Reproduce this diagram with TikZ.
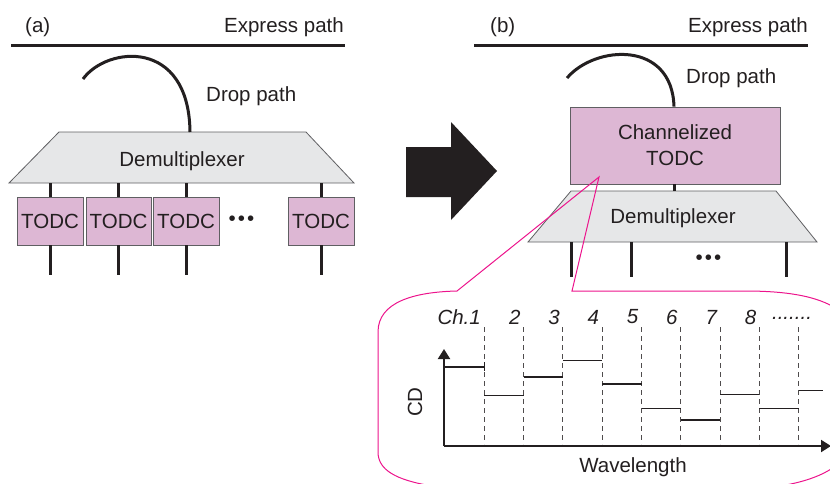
\documentclass[tikz,border=0pt]{standalone}
\usepackage{fontspec}
\setmainfont{Liberation Sans}
\usetikzlibrary{arrows.meta}
\definecolor{ink}{RGB}{35,31,32}
\definecolor{todcfill}{RGB}{221,183,212}
\definecolor{demuxfill}{RGB}{230,231,232}
\definecolor{edgegray}{RGB}{95,95,98}
\definecolor{calloutcol}{RGB}{236,20,140}
\begin{document}
\begin{tikzpicture}[x=1pt,y=-1pt,
  font=\fontsize{20.5}{24}\selectfont, text=ink,
  fiber/.style={line width=3pt, draw=ink},
  stub/.style={line width=3pt, draw=ink},
  todcbox/.style={draw=edgegray, fill=todcfill, line width=0.8pt, inner sep=0pt, minimum height=48pt},
  demuxshape/.style={draw=edgegray, fill=demuxfill, line width=0.8pt},
  plain/.style={inner sep=0pt},
  dashline/.style={draw=ink!80, line width=0.9pt, dash pattern=on 5pt off 4pt},
  level/.style={draw=ink, line width=1.6pt},
  axis/.style={draw=ink, line width=2pt, -{Triangle[length=10pt,width=12pt]}},
  pointer/.style={draw=calloutcol, line width=1pt}]
\useasboundingbox (0,0) rectangle (830,483);

% ---------------- (a) ----------------
\node[plain, anchor=base west] (la) at (25,32) {(a)};
\node[plain, anchor=base east] (expa) at (344,32) {Express path};
\coordinate (ea1) at (11,45); \coordinate (ea2) at (345,45);
\draw[fiber] (ea1) -- (ea2);

\draw[demuxshape] (59,132) -- (306,132) -- (354,183) -- (9,183) -- cycle;
\node[plain, anchor=base] (dmxa) at (182,166) {Demultiplexer};
\coordinate (dta) at (190,132);
\coordinate (dropa) at (83,79);
\draw[fiber] (dropa) .. controls (107,46) and (189,38) .. (dta);
\node[plain, anchor=base west] (dpa) at (206,101) {Drop path};

\node[todcbox, minimum width=66pt] (t1) at (50,221) {TODC};
\node[todcbox, minimum width=65pt] (t2) at (118.5,221) {TODC};
\node[todcbox, minimum width=66pt] (t3) at (186,221) {TODC};
\node[todcbox, minimum width=66pt] (t4) at (321,221) {TODC};
\node[plain] (dotsa) at (241.5,221) {\textbullet\hspace{2pt}\textbullet\hspace{2pt}\textbullet};
\foreach \n/\x in {t1/50, t2/118.5, t3/186, t4/321}{
  \coordinate (\n top) at (\x,183);
  \coordinate (\n bot) at (\x,275);
  \draw[stub] (\n top) -- (\n.north);
  \draw[stub] (\n.south) -- (\n bot);
}

% ---------------- big arrow ----------------
\fill[ink] (406,147) -- (451,147) -- (451,122) -- (497,171) -- (451,220) -- (451,197) -- (406,197) -- cycle;

% ---------------- (b) ----------------
\node[plain, anchor=base west] (lb) at (490,32) {(b)};
\node[plain, anchor=base east] (expb) at (808,32) {Express path};
\coordinate (eb1) at (474,45); \coordinate (eb2) at (808,45);
\draw[fiber] (eb1) -- (eb2);

\node[draw=edgegray, fill=todcfill, line width=0.8pt, minimum width=210pt, minimum height=77pt,
      inner sep=0pt, align=center, font=\fontsize{20.5}{26}\selectfont] (ctodc) at (675,145.5) {Channelized\\TODC};
\coordinate (dropb) at (567,78);
\draw[fiber] (dropb) .. controls (595,45) and (672,40) .. (ctodc.north -| 674,0);
\node[plain, anchor=base west] (dpb) at (686,83) {Drop path};

\draw[demuxshape] (571,191) -- (776,191) -- (817,242) -- (528,242) -- cycle;
\node[plain, anchor=base] (dmxb) at (673,223) {Demultiplexer};
\coordinate (dtb) at (674,191);
\draw[stub] (ctodc.south -| dtb) -- (dtb);
\foreach \x in {571,631,786}{
  \draw[stub] (\x,242) -- (\x,277);
}
\node[plain] (dotsb) at (708.5,260) {\textbullet\hspace{2pt}\textbullet\hspace{2pt}\textbullet};

% ---------------- callout ----------------
\coordinate (tip) at (599,177);
\draw[pointer] (457,291) -- (tip) -- (572,291) -- (745,291)
  .. controls (800,291) and (835,300) .. (850,322) -- (850,440)
  .. controls (850,465) and (818,480) .. (780,486) -- (432,486)
  .. controls (396,480) and (378,470) .. (378,452) -- (378,332)
  .. controls (378,302) and (414,292) .. (457,291);

% ---------------- chart ----------------
\coordinate (O) at (444,446);
\draw[axis] (O) -- (444,349);
\draw[axis] (O) -- (831,446);
\foreach \i in {0,...,8}{
  \draw[dashline] ({484.3+39.3*\i},327) -- ({484.3+39.3*\i},444);
}
\foreach \a/\b/\y in {444/484.3/366.7, 484.3/523.6/395.3, 523.6/562.9/376.7, 562.9/602.2/360.3,
  602.2/641.5/384, 641.5/680.8/408.3, 680.8/720.1/420, 720.1/759.4/394.3, 759.4/798.7/408.3, 798.7/823/390.3}{
  \draw[level] (\a,\y) -- (\b,\y);
}
\draw[level, line width=1pt] (484.3,362) -- (484.3,371);
\node[plain, anchor=east] (ch1) at (481,317) {\itshape Ch.1};
\foreach \k/\x in {2/523.6, 3/562.9, 4/602.2, 5/641.5, 6/680.8, 7/720.1, 8/759.4}{
  \node[plain, anchor=east] (ch\k) at ({\x-3},317) {\itshape \k};
}
\node[plain] (chdots) at (792,318) {\itshape .......};
\node[plain, rotate=90] (cd) at (415,402) {CD};
\node[plain] (wl) at (633,467) {Wavelength};
\end{tikzpicture}
\end{document}
